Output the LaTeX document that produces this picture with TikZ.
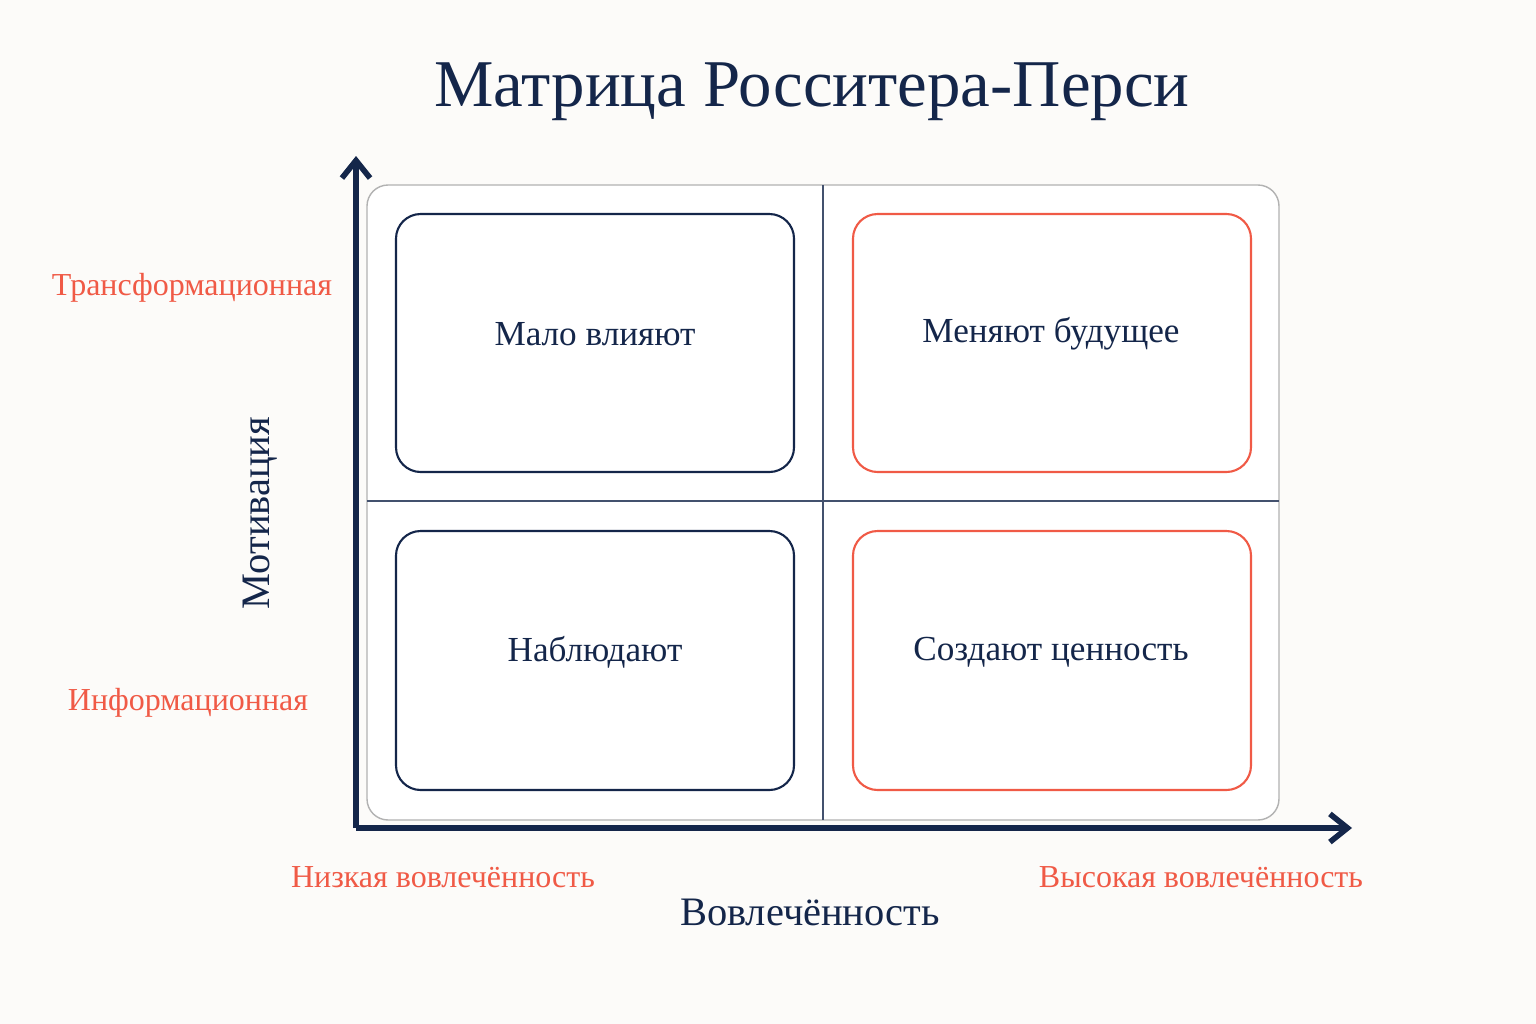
\documentclass[tikz,border=0pt]{standalone}
\usepackage{fontspec}
\setmainfont{Liberation Serif}
\usetikzlibrary{arrows.meta}
\definecolor{navy}{HTML}{14264A}
\definecolor{accent}{HTML}{F05A46}
\definecolor{paper}{HTML}{FCFBF9}
\tikzset{
  cell/.style={draw=navy,fill=white,rounded corners=7pt,line width=0.6pt},
  hot/.style={cell,draw=accent},
  tick/.style={text=accent,font=\fontsize{9.1}{11}\selectfont},
  celltext/.style={text=navy,font=\fontsize{10}{12}\selectfont}
}
\begin{document}
\begin{tikzpicture}[x=0.01cm,y=-0.01cm]
  \fill[paper] (0,0) rectangle (1536,1024);
  % panel with quadrants
  \draw[gray!60,fill=white,rounded corners=6pt] (367,185) rectangle (1279,820);
  \draw[navy!80,thin] (823,185) -- (823,820);
  \draw[navy!80,thin] (367,501) -- (1279,501);
  \draw[cell] (396,214) rectangle (794,472);
  \draw[hot] (853,214) rectangle (1251,472);
  \draw[cell] (396,531) rectangle (794,790);
  \draw[hot] (853,531) rectangle (1251,790);
  \node[celltext] (q1) at (595,334) {Мало влияют};
  \node[celltext] (q2) at (1051,334) {Меняют будущее};
  \node[celltext] (q3) at (595,652) {Наблюдают};
  \node[celltext] (q4) at (1051,652) {Создают ценность};
  % axes
  \coordinate (o) at (356,828);
  \coordinate (ytop) at (356,156);
  \coordinate (xend) at (1352,828);
  \draw[navy,line width=1.6pt,-{Straight Barb[length=5pt,width=8pt]}] (o) -- (ytop);
  \draw[navy,line width=1.6pt,-{Straight Barb[length=5pt,width=8pt]}] (o) -- (xend);
  % labels
  \node[text=navy,font=\fontsize{19}{23}\selectfont] (title) at (812,92) {Матрица Росситера-Перси};
  \node[text=navy,font=\fontsize{11.5}{14}\selectfont,rotate=90] (ylab) at (260,513) {Мотивация};
  \node[text=navy,font=\fontsize{11.5}{14}\selectfont] (xlab) at (810,912) {Вовлечённость};
  \node[tick] (yhi) at (192,288) {Трансформационная};
  \node[tick] (ylo) at (188,703) {Информационная};
  \node[tick] (xlo) at (443,877) {Низкая вовлечённость};
  \node[tick] (xhi) at (1201,877) {Высокая вовлечённость};
\end{tikzpicture}
\end{document}
